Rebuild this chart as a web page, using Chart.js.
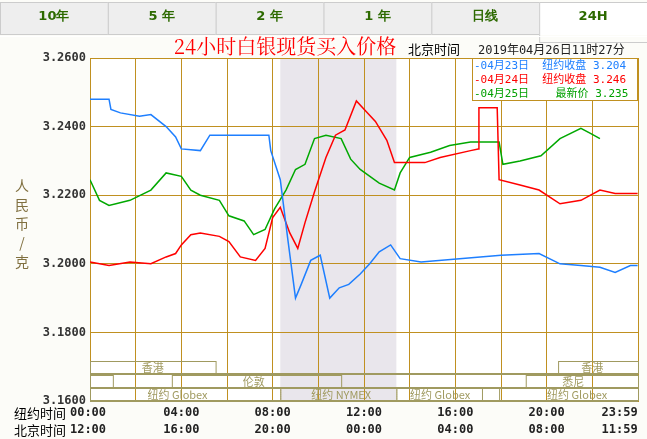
<!DOCTYPE html>
<html>
<head>
<meta charset="utf-8">
<script src="https://cdn.jsdelivr.net/npm/chart.js@4"></script>
<style>
  body { margin: 0; background: #fcfcf8; }
  #wrap { width: 647px; height: 439px; position: relative; }
</style>
</head>
<body>
<div id="wrap"><canvas id="silver"></canvas></div>
<script>
// minutes after NY 00:00, price
const blueDay = [[0,3.248],[50,3.248],[55,3.245],[80,3.244],[130,3.243],[160,3.2435],[200,3.240],[225,3.237],[240,3.2335],[290,3.233],[315,3.2375],[470,3.2375],[475,3.233],[500,3.2245],[520,3.207],[540,3.190],[555,3.194],[580,3.201],[605,3.2025],[630,3.190],[655,3.193],[680,3.194],[710,3.197],[735,3.200],[760,3.2035],[790,3.2055],[815,3.2015],[870,3.2005],[1080,3.2025],[1180,3.203],[1235,3.200],[1290,3.1995],[1340,3.199],[1380,3.1975],[1420,3.1995],[1439,3.1995]];
const redDay = [[0,3.2005],[50,3.1995],[105,3.2005],[160,3.2],[200,3.202],[225,3.203],[240,3.2055],[265,3.2085],[290,3.209],[340,3.208],[365,3.2065],[395,3.202],[435,3.201],[460,3.2045],[480,3.2135],[500,3.2165],[525,3.209],[546,3.2045],[565,3.212],[590,3.221],[620,3.231],[645,3.2375],[670,3.239],[700,3.2475],[725,3.2445],[750,3.2415],[780,3.236],[800,3.2295],[830,3.2295],[880,3.2295],[920,3.231],[1000,3.233],[1020,3.2335],[1022,3.2455],[1070,3.2455],[1075,3.2245],[1130,3.223],[1180,3.2215],[1235,3.2175],[1290,3.2185],[1340,3.2215],[1380,3.2205],[1439,3.2205]];
const greenDay = [[0,3.2245],[25,3.2185],[50,3.217],[105,3.2185],[160,3.2215],[200,3.2265],[240,3.2255],[265,3.2215],[290,3.22],[340,3.2185],[365,3.214],[405,3.2125],[430,3.2085],[460,3.21],[485,3.216],[515,3.2215],[540,3.2275],[565,3.229],[590,3.2365],[620,3.2375],[660,3.2365],[685,3.2305],[710,3.2275],[760,3.2235],[800,3.2215],[815,3.2265],[840,3.231],[895,3.2325],[945,3.2345],[1000,3.2355],[1055,3.2355],[1075,3.2355],[1085,3.229],[1130,3.230],[1185,3.2315],[1235,3.2365],[1290,3.2395],[1315,3.238],[1340,3.2365]];

const legendLines = [
  ['-04月23日  纽约收盘 3.204', '#1e7fff'],
  ['-04月24日  纽约收盘 3.246', '#ff0000'],
  ['-04月25日    最新价 3.235', '#00a000']
];
const tabs = ['10年', '5 年', '2 年', '1 年', '日线', '24H'];
const nyTimes = ['00:00', '04:00', '08:00', '12:00', '16:00', '20:00', '23:59'];
const bjTimes = ['12:00', '16:00', '20:00', '00:00', '04:00', '08:00', '11:59'];
const timeMarks = [0, 240, 480, 720, 960, 1200, 1439];
const yTicks = [3.16, 3.18, 3.20, 3.22, 3.24, 3.26];
// session boxes: [row, start, end, label, labelAt]
const sessions = [
  [0, 0, 330, '香港', 165], [0, 1230, 1440, '香港', 1320],
  [1, 0, 60, '', 0], [1, 215, 660, '伦敦', 430], [1, 1145, 1440, '悉尼', 1270],
  [2, 0, 500, '纽约 Globex', 230], [2, 500, 805, '纽约 NYMEX', 660],
  [2, 805, 1030, '纽约 Globex', 920], [2, 1075, 1440, '纽约 Globex', 1280]
];

const gold = '#c09020';
const olive = '#a09a60';
const mono = 'bold 12px "DejaVu Sans Mono", monospace';
const toXY = arr => arr.map(p => ({ x: p[0], y: p[1] }));

const decor = {
  id: 'decor',
  beforeDraw(chart) {
    const { ctx, chartArea: a, scales: { x } } = chart;
    ctx.save();
    ctx.fillStyle = '#ffffff';
    ctx.fillRect(a.left, a.top, a.right - a.left, a.bottom - a.top);
    ctx.fillStyle = '#e9e6ec';
    const s0 = x.getPixelForValue(500), s1 = x.getPixelForValue(805);
    ctx.fillRect(s0, a.top, s1 - s0, a.bottom - a.top);
    ctx.restore();
  },
  afterDraw(chart) {
    const { ctx, chartArea: a, scales: { x, y } } = chart;
    ctx.save();
    // tabs
    const tw = 647 / 6;
    tabs.forEach((t, i) => {
      ctx.fillStyle = i === 5 ? '#ffffff' : '#eeeeee';
      ctx.fillRect(i * tw, 2, tw, 33);
      ctx.strokeStyle = '#cccccc';
      ctx.strokeRect(i * tw + 0.5, 2.5, tw, i === 5 ? 40 : 32);
      ctx.fillStyle = '#2d6a00';
      ctx.font = 'bold 13px "DejaVu Sans", sans-serif';
      ctx.textAlign = 'center'; ctx.textBaseline = 'middle';
      ctx.fillText(t, i * tw + tw / 2, 17);
    });
    ctx.fillStyle = '#ffffff';
    ctx.fillRect(0, 36, 647, 1);
    // title
    ctx.textBaseline = 'alphabetic';
    ctx.fillStyle = '#ff0000';
    ctx.font = '20px "Noto Serif CJK SC", "Noto Sans CJK SC", serif';
    ctx.fillText('24小时白银现货买入价格', 285, 54);
    ctx.fillStyle = '#000';
    ctx.font = '13px "Noto Sans CJK SC", sans-serif';
    ctx.textAlign = 'left';
    ctx.fillText('北京时间', 408, 54);
    ctx.font = '12px "DejaVu Sans Mono", "Noto Sans CJK SC", monospace';
    ctx.fillStyle = '#222';
    ctx.fillText('2019年04月26日11时27分', 478, 54);
    // y ticks
    ctx.font = mono; ctx.fillStyle = '#333'; ctx.textAlign = 'right';
    ctx.textBaseline = 'middle';
    yTicks.forEach(v => ctx.fillText(v.toFixed(4), 86, y.getPixelForValue(v)));
    // y title
    ctx.fillStyle = '#807040';
    ctx.font = '14px "Noto Sans CJK SC", sans-serif';
    ctx.textAlign = 'center';
    ['人', '民', '币', '/', '克'].forEach((c, i) => ctx.fillText(c, 22, 186 + i * 19));
    // sessions
    const rowY = [361, 375, 388];
    ctx.font = '11px "Noto Sans CJK SC", "DejaVu Sans", sans-serif';
    sessions.forEach(([r, s, e, lab, at]) => {
      const x0 = x.getPixelForValue(s), x1 = Math.min(x.getPixelForValue(e), a.right);
      ctx.strokeStyle = olive; ctx.lineWidth = 1;
      ctx.setLineDash(lab === '纽约 NYMEX' ? [1, 1] : []);
      ctx.strokeRect(x0 + 0.5, rowY[r] + 0.5, x1 - x0, 12);
      ctx.setLineDash([]);
      ctx.fillStyle = olive;
      if (lab) ctx.fillText(lab, x.getPixelForValue(at), rowY[r] + 7);
    });
    ctx.fillStyle = olive;
    ctx.fillRect(a.left, 373, a.right - a.left, 2);
    ctx.fillRect(a.left, 387, a.right - a.left, 2);
    ctx.fillRect(a.left, a.bottom - 1, a.right - a.left, 2);
    // bottom time labels
    ctx.font = '13px "Noto Sans CJK SC", sans-serif';
    ctx.fillStyle = '#000'; ctx.textAlign = 'left';
    ctx.fillText('纽约时间', 14, 413);
    ctx.fillText('北京时间', 14, 430);
    ctx.font = mono; ctx.fillStyle = '#222';
    timeMarks.forEach((m, i) => {
      const px = x.getPixelForValue(m);
      ctx.textAlign = i === timeMarks.length - 1 ? 'right' : 'center';
      const dx = i === 0 ? -2 : 0;
      ctx.fillText(nyTimes[i], px + dx, 413);
      ctx.fillText(bjTimes[i], px + dx, 430);
    });
    // legend box
    ctx.fillStyle = '#ffffff';
    ctx.fillRect(472, 58, 166, 42);
    ctx.strokeStyle = gold; ctx.lineWidth = 1;
    ctx.strokeRect(472.5, 58.5, 165, 42);
    ctx.font = '11px "DejaVu Sans Mono", "Noto Sans CJK SC", monospace';
    ctx.textAlign = 'left';
    legendLines.forEach(([t, c], i) => {
      ctx.fillStyle = c;
      ctx.fillText(t, 474, 66 + i * 14);
    });
    ctx.restore();
  }
};

const ds = (d, c) => ({ data: toXY(d), borderColor: c, borderWidth: 1.5, pointRadius: 0, tension: 0, fill: false });

new Chart(document.getElementById('silver'), {
  type: 'line',
  data: { datasets: [ds(blueDay, '#1e7fff'), ds(redDay, '#ff0000'), ds(greenDay, '#00a800')] },
  options: {
    responsive: true, maintainAspectRatio: false, animation: false,
    layout: { padding: { left: 0, right: 9, top: 58, bottom: 0 } },
    plugins: { legend: { display: false }, tooltip: { enabled: false } },
    scales: {
      x: {
        type: 'linear', min: 0, max: 1440,
        ticks: { stepSize: 120, display: false },
        grid: { color: gold, lineWidth: 1, drawTicks: false },
        border: { color: gold },
        afterFit: s => { s.height = 38; }
      },
      y: {
        min: 3.16, max: 3.26,
        ticks: { stepSize: 0.02, display: false },
        grid: { color: gold, lineWidth: 1, drawTicks: false },
        border: { color: gold },
        afterFit: s => { s.width = 90; }
      }
    }
  },
  plugins: [decor]
});
</script>
</body>
</html>
